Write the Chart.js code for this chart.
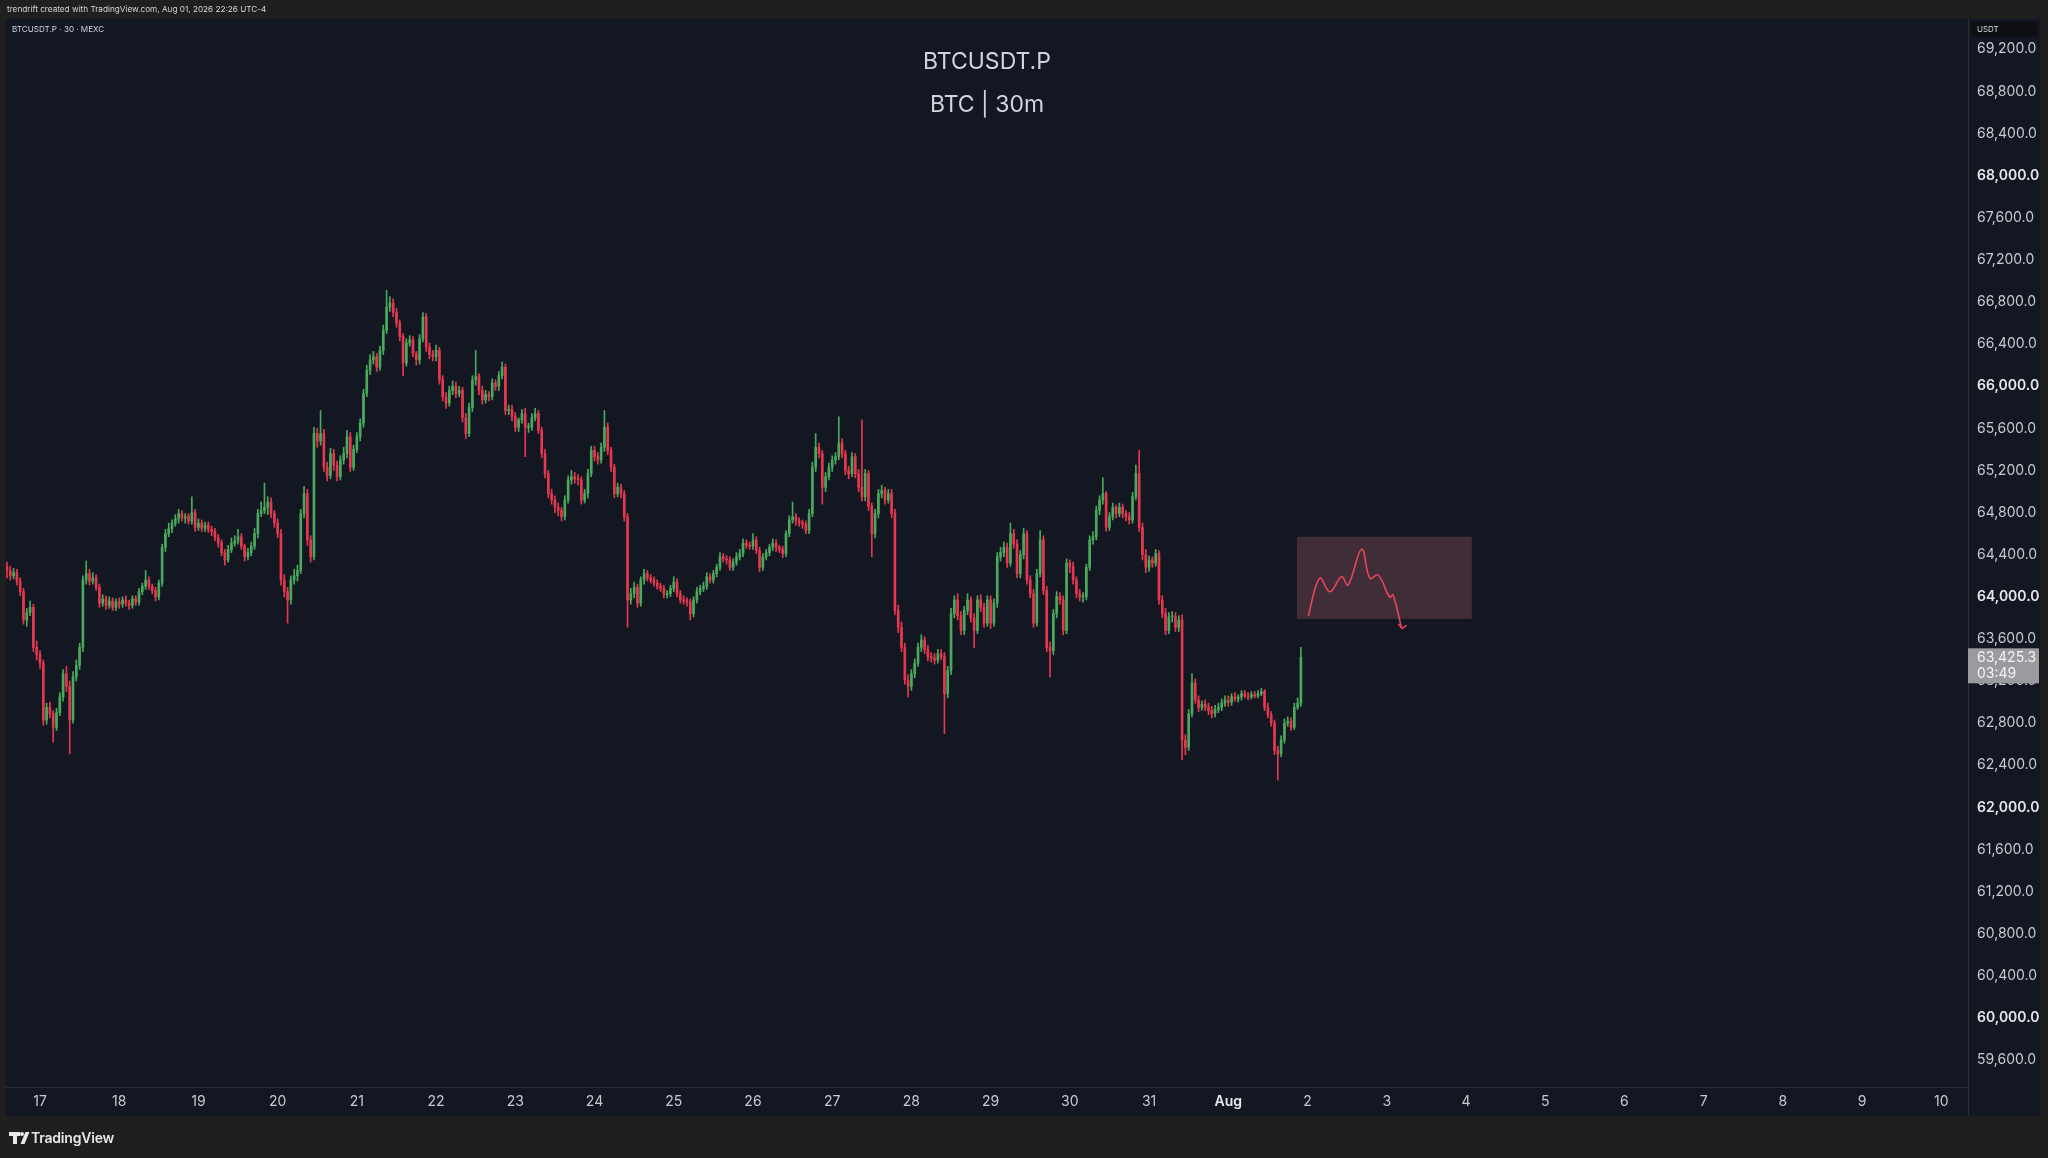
<!DOCTYPE html>
<html>
<head>
<meta charset="utf-8">
<title>BTCUSDT.P 30m</title>
<script src="https://cdn.jsdelivr.net/npm/chart.js@4.4.1/dist/chart.umd.min.js"></script>
<style>
  html, body { margin: 0; padding: 0; background: #1f1f1f; }
  body { width: 2048px; height: 1158px; position: relative; overflow: hidden; font-family: Inter, "Noto Sans", sans-serif; }
  #chart { position: absolute; left: 0; top: 0; }
  .hdr { position: absolute; left: 7px; top: 4px; font-size: 8.2px; line-height: 11px; color: #d6d6d6; white-space: nowrap; }
  .legend { position: absolute; left: 12px; top: 23px; font-size: 8.1px; line-height: 12px; color: #d1d4dc; white-space: nowrap; }
  .title { position: absolute; left: 0; width: 1974px; text-align: center; color: #d1d4dc; font-size: 23px; line-height: 28px; }
  .foot { position: absolute; left: 31px; top: 1129px; font-size: 14px; line-height: 17px; font-weight: 600; color: #e8e8e8; letter-spacing: -0.2px; }
  .logo-t1 { position: absolute; left: 9px; top: 1132px; width: 11px; height: 4px; background: #e8e8e8; }
  .logo-t2 { position: absolute; left: 13px; top: 1132px; width: 4px; height: 12px; background: #e8e8e8; }
  .logo-dot { position: absolute; left: 20px; top: 1132px; width: 4px; height: 4px; border-radius: 2px; background: #e8e8e8; }
  .logo-v { position: absolute; left: 23px; top: 1132px; width: 4px; height: 12px; background: #e8e8e8; transform: skewX(-22deg); }
</style>
</head>
<body>
<canvas id="chart" width="2048" height="1158"></canvas>
<div class="hdr">trendrift created with TradingView.com, Aug 01, 2026 22:26 UTC-4</div>
<div class="legend">BTCUSDT.P · 30 · MEXC</div>
<div class="title" style="top:47px">BTCUSDT.P</div>
<div class="title" style="top:90px">BTC | 30m</div>
<div class="logo-t1"></div><div class="logo-t2"></div><div class="logo-dot"></div><div class="logo-v"></div>
<div class="foot">TradingView</div>
<script>
// hourly candles, x = hours from Jul 17 00:00 (first candle Jul 16 14:00)
const firstHour = -10;

const opens = [
  64280, 64250, 64200, 64230, 64150, 64050, 63780, 63850, 63900, 63520,
  63450, 63370, 62830, 62950, 62890, 62760, 62900, 63050, 63270, 63150, 62830, 63240, 63350, 63520, 64160, 64220, 64150, 64180, 64090, 63940, 63980, 63920, 63960, 63900,
  63950, 63930, 63970, 63940, 63920, 63980, 63950, 64050, 64100, 64160, 64100, 64060, 64000, 64130, 64470, 64600, 64650, 64700, 64740, 64790, 64750, 64760, 64720, 64800,
  64660, 64700, 64650, 64680, 64640, 64620, 64560, 64510, 64420, 64350, 64450, 64510, 64530, 64570, 64480, 64380, 64420, 64480, 64600, 64790, 64820, 64850, 64900, 64790,
  64700, 64600, 64160, 64050, 63970, 64160, 64200, 64250, 64790, 64980, 64540, 64380, 65550, 65480, 65550, 65230, 65150, 65360, 65250, 65140, 65300, 65360, 65520, 65230,
  65400, 65520, 65650, 65930, 66150, 66250, 66280, 66180, 66340, 66530, 66750, 66790, 66700, 66600, 66470, 66220, 66410, 66440, 66310, 66250, 66450, 66660, 66370, 66300,
  66280, 66340, 66060, 65900, 65840, 65960, 66000, 65930, 65960, 65700, 65550, 65800, 66060, 66090, 65960, 65870, 65920, 65900, 66030, 66000, 66100, 66180, 65770, 65780,
  65710, 65610, 65680, 65740, 65610, 65610, 65700, 65740, 65580, 65360, 65170, 64980, 64920, 64850, 64820, 64760, 64920, 65110, 65140, 65120, 65110, 64920, 64980, 65170,
  65390, 65330, 65300, 65420, 65610, 65390, 65230, 64980, 65040, 64980, 64760, 63970, 64030, 64090, 63940, 64160, 64220, 64180, 64160, 64130, 64100, 64080, 64020, 64030,
  64080, 64140, 64030, 63970, 63960, 63950, 63840, 63970, 64050, 64080, 64100, 64190, 64160, 64220, 64280, 64380, 64360, 64350, 64280, 64330, 64380, 64410, 64510, 64490,
  64480, 64540, 64440, 64280, 64380, 64420, 64470, 64510, 64470, 64450, 64410, 64600, 64730, 64760, 64720, 64700, 64690, 64630, 64790, 65230, 65420, 65360, 65040, 65140,
  65230, 65300, 65330, 65460, 65360, 65200, 65170, 65330, 65170, 65040, 64950, 65170, 64860, 64600, 64790, 64980, 65010, 64920, 64980, 64790, 63870, 63710, 63520, 63210,
  63150, 63270, 63370, 63520, 63590, 63500, 63430, 63420, 63400, 63460, 63430, 63080, 63300, 63840, 63970, 63820, 63680, 63870, 63970, 63800, 63680, 63970, 63900, 63750,
  63970, 63750, 63940, 64380, 64420, 64470, 64320, 64600, 64500, 64220, 64400, 64600, 64160, 64030, 63750, 64220, 64540, 64060, 63520, 63490, 63840, 64000, 63970, 63680,
  64320, 64290, 64160, 64030, 64000, 64000, 64280, 64540, 64570, 64820, 64920, 64980, 64660, 64760, 64850, 64790, 64850, 64790, 64760, 64730, 64950, 65170, 64660, 64400,
  64280, 64350, 64320, 64410, 63970, 63840, 63680, 63810, 63810, 63710, 63780, 62640, 62570, 62890, 63180, 63020, 62950, 62980, 62950, 62920, 62890, 62930, 62950, 62990,
  63020, 63000, 63050, 63030, 63050, 63080, 63060, 63050, 63070, 63060, 63080, 63100, 62950, 62880, 62800, 62540, 62510, 62640, 62800, 62820, 62760, 62950, 62990
];

const highs = [
  64330, 64290, 64270, 64260, 64180, 64080, 63890, 63960, 63930, 63580,
  63490, 63400, 62990, 63000, 62920, 62940, 63090, 63310, 63340, 63200, 63290, 63400, 63560, 64200, 64340, 64260, 64230, 64210, 64120, 64020, 64010, 64000, 63990, 63980,
  63990, 64000, 64010, 63970, 64010, 64010, 64080, 64130, 64250, 64190, 64120, 64090, 64160, 64500, 64640, 64700, 64730, 64780, 64830, 64820, 64790, 64790, 64950, 64830,
  64740, 64730, 64710, 64710, 64670, 64650, 64590, 64540, 64450, 64490, 64560, 64580, 64640, 64600, 64500, 64460, 64520, 64650, 64830, 64900, 65080, 64950, 64940, 64820,
  64740, 64640, 64210, 64090, 64200, 64260, 64300, 64830, 65050, 65020, 64580, 65610, 65600, 65770, 65590, 65280, 65410, 65400, 65290, 65340, 65420, 65580, 65560, 65440,
  65560, 65690, 65970, 66200, 66300, 66330, 66310, 66380, 66580, 66910, 66850, 66830, 66740, 66630, 66500, 66450, 66480, 66470, 66330, 66490, 66700, 66690, 66410, 66340,
  66390, 66370, 66100, 65940, 66000, 66050, 66040, 66000, 65990, 65740, 65840, 66100, 66340, 66120, 66000, 65960, 65950, 66070, 66060, 66140, 66230, 66210, 65820, 65820,
  65750, 65700, 65780, 65790, 65650, 65740, 65790, 65770, 65610, 65400, 65200, 65020, 64960, 64890, 64850, 64960, 65150, 65200, 65180, 65160, 65140, 65020, 65210, 65430,
  65430, 65370, 65460, 65770, 65650, 65420, 65260, 65080, 65070, 65010, 64790, 64080, 64140, 64120, 64190, 64260, 64250, 64210, 64190, 64160, 64130, 64110, 64060, 64110,
  64190, 64170, 64060, 64010, 63990, 63980, 64000, 64090, 64110, 64140, 64230, 64220, 64250, 64310, 64420, 64410, 64390, 64380, 64360, 64420, 64450, 64550, 64540, 64520,
  64600, 64570, 64470, 64410, 64450, 64500, 64550, 64540, 64490, 64480, 64630, 64770, 64900, 64790, 64750, 64730, 64720, 64830, 65280, 65550, 65460, 65390, 65180, 65270,
  65340, 65370, 65710, 65500, 65390, 65240, 65370, 65360, 65210, 65680, 65210, 65200, 64890, 64830, 65020, 65060, 65040, 65020, 65020, 64830, 63920, 63760, 63560, 63260,
  63310, 63410, 63560, 63640, 63620, 63540, 63470, 63460, 63500, 63500, 63470, 63340, 63890, 64010, 64030, 63860, 63910, 64030, 64000, 63840, 64010, 64020, 63940, 64010,
  64010, 63980, 64420, 64470, 64520, 64510, 64700, 64640, 64540, 64440, 64650, 64630, 64200, 64070, 64260, 64630, 64580, 64100, 63570, 63880, 64050, 64040, 64010, 64360,
  64350, 64330, 64190, 64070, 64040, 64310, 64580, 64620, 64860, 64960, 65130, 65000, 64800, 64890, 64870, 64890, 64880, 64820, 64800, 64990, 65250, 65390, 64700, 64450,
  64390, 64380, 64450, 64440, 64010, 63890, 63850, 63860, 63850, 63820, 63830, 62690, 62930, 63270, 63220, 63060, 63010, 63020, 62990, 62960, 62970, 62990, 63030, 63060,
  63060, 63080, 63090, 63070, 63110, 63110, 63090, 63100, 63100, 63110, 63130, 63120, 62990, 62910, 62830, 62580, 62680, 62840, 62860, 62850, 62990, 63040, 63520
];

const lows = [
  64180, 64160, 64170, 64110, 64010, 63740, 63720, 63820, 63480, 63400,
  63320, 62780, 62790, 62850, 62620, 62730, 62870, 63010, 63100, 62510, 62800, 63200, 63310, 63480, 64120, 64110, 64120, 64060, 63900, 63910, 63880, 63890, 63870, 63870,
  63890, 63900, 63910, 63880, 63890, 63920, 63920, 64020, 64070, 64070, 64030, 63960, 63970, 64100, 64430, 64570, 64610, 64670, 64700, 64720, 64700, 64690, 64690, 64620,
  64630, 64620, 64620, 64610, 64580, 64530, 64470, 64390, 64300, 64330, 64420, 64480, 64500, 64450, 64340, 64350, 64390, 64450, 64560, 64760, 64790, 64780, 64750, 64660,
  64560, 64110, 64000, 63750, 63930, 64120, 64150, 64220, 64750, 64490, 64330, 64350, 65420, 65440, 65190, 65100, 65120, 65200, 65100, 65110, 65260, 65320, 65190, 65200,
  65370, 65480, 65610, 65900, 66110, 66210, 66140, 66150, 66300, 66500, 66710, 66660, 66560, 66430, 66100, 66190, 66380, 66280, 66200, 66210, 66420, 66330, 66260, 66240,
  66240, 66020, 65860, 65790, 65810, 65920, 65890, 65900, 65660, 65500, 65520, 65760, 66010, 65920, 65830, 65840, 65860, 65870, 65960, 65960, 66070, 65730, 65730, 65670,
  65570, 65570, 65650, 65330, 65560, 65580, 65670, 65550, 65320, 65130, 64940, 64880, 64800, 64770, 64720, 64730, 64890, 65070, 65080, 65060, 64880, 64890, 64940, 65140,
  65290, 65260, 65270, 65380, 65350, 65190, 64940, 64950, 64940, 64720, 63710, 63930, 63990, 63900, 63910, 64120, 64150, 64130, 64100, 64070, 64050, 63990, 63990, 64000,
  64050, 64000, 63940, 63930, 63910, 63780, 63810, 63940, 64020, 64050, 64070, 64130, 64130, 64190, 64250, 64330, 64310, 64250, 64250, 64300, 64350, 64380, 64460, 64450,
  64450, 64410, 64240, 64250, 64350, 64390, 64440, 64430, 64420, 64370, 64380, 64570, 64700, 64680, 64670, 64650, 64600, 64600, 64760, 65190, 65320, 64880, 65000, 65110,
  65190, 65260, 65300, 65320, 65160, 65120, 65140, 65130, 65000, 64910, 64910, 64820, 64380, 64560, 64750, 64940, 64880, 64890, 64750, 63830, 63660, 63480, 63170, 63050,
  63110, 63230, 63340, 63480, 63460, 63390, 63380, 63360, 63370, 63400, 62700, 63040, 63260, 63800, 63780, 63640, 63640, 63830, 63760, 63520, 63650, 63860, 63710, 63720,
  63700, 63720, 63900, 64340, 64380, 64280, 64290, 64460, 64180, 64180, 64360, 64120, 63990, 63710, 63720, 64190, 64020, 63480, 63240, 63450, 63800, 63930, 63640, 63650,
  64230, 64120, 63990, 63960, 63950, 63970, 64250, 64500, 64540, 64780, 64880, 64620, 64630, 64730, 64750, 64760, 64750, 64720, 64690, 64700, 64920, 64620, 64350, 64230,
  64240, 64280, 64290, 63930, 63800, 63640, 63650, 63760, 63670, 63670, 62450, 62500, 62540, 62860, 62990, 62910, 62920, 62920, 62880, 62850, 62860, 62900, 62920, 62960,
  62960, 62970, 63010, 63000, 63020, 63040, 63020, 63030, 63040, 63040, 63060, 62920, 62850, 62770, 62500, 62260, 62480, 62610, 62770, 62730, 62740, 62930, 62960
];

const closes = [
  64250, 64200, 64230, 64150, 64050, 63780, 63850, 63900, 63520, 63450,
  63370, 62830, 62950, 62890, 62760, 62900, 63050, 63270, 63150, 62830, 63240, 63350, 63520, 64160, 64220, 64150, 64180, 64090, 63940, 63980, 63920, 63960, 63900, 63950,
  63930, 63970, 63940, 63920, 63980, 63950, 64050, 64100, 64160, 64100, 64060, 64000, 64130, 64470, 64600, 64650, 64700, 64740, 64790, 64750, 64760, 64720, 64800, 64660,
  64700, 64650, 64680, 64640, 64620, 64560, 64510, 64420, 64350, 64450, 64510, 64530, 64570, 64480, 64380, 64420, 64480, 64600, 64790, 64820, 64850, 64900, 64790, 64700,
  64600, 64160, 64050, 63970, 64160, 64200, 64250, 64790, 64980, 64540, 64380, 65550, 65480, 65550, 65230, 65150, 65360, 65250, 65140, 65300, 65360, 65520, 65230, 65400,
  65520, 65650, 65930, 66150, 66250, 66280, 66180, 66340, 66530, 66750, 66790, 66700, 66600, 66470, 66220, 66410, 66440, 66310, 66250, 66450, 66660, 66370, 66300, 66280,
  66340, 66060, 65900, 65840, 65960, 66000, 65930, 65960, 65700, 65550, 65800, 66060, 66090, 65960, 65870, 65920, 65900, 66030, 66000, 66100, 66180, 65770, 65780, 65710,
  65610, 65680, 65740, 65610, 65610, 65700, 65740, 65580, 65360, 65170, 64980, 64920, 64850, 64820, 64760, 64920, 65110, 65140, 65120, 65110, 64920, 64980, 65170, 65390,
  65330, 65300, 65420, 65610, 65390, 65230, 64980, 65040, 64980, 64760, 63970, 64030, 64090, 63940, 64160, 64220, 64180, 64160, 64130, 64100, 64080, 64020, 64030, 64080,
  64140, 64030, 63970, 63960, 63950, 63840, 63970, 64050, 64080, 64100, 64190, 64160, 64220, 64280, 64380, 64360, 64350, 64280, 64330, 64380, 64410, 64510, 64490, 64480,
  64540, 64440, 64280, 64380, 64420, 64470, 64510, 64470, 64450, 64410, 64600, 64730, 64760, 64720, 64700, 64690, 64630, 64790, 65230, 65420, 65360, 65040, 65140, 65230,
  65300, 65330, 65460, 65360, 65200, 65170, 65330, 65170, 65040, 64950, 65170, 64860, 64600, 64790, 64980, 65010, 64920, 64980, 64790, 63870, 63710, 63520, 63210, 63150,
  63270, 63370, 63520, 63590, 63500, 63430, 63420, 63400, 63460, 63430, 63080, 63300, 63840, 63970, 63820, 63680, 63870, 63970, 63800, 63680, 63970, 63900, 63750, 63970,
  63750, 63940, 64380, 64420, 64470, 64320, 64600, 64500, 64220, 64400, 64600, 64160, 64030, 63750, 64220, 64540, 64060, 63520, 63490, 63840, 64000, 63970, 63680, 64320,
  64290, 64160, 64030, 64000, 64000, 64280, 64540, 64570, 64820, 64920, 64980, 64660, 64760, 64850, 64790, 64850, 64790, 64760, 64730, 64950, 65170, 64660, 64400, 64280,
  64350, 64320, 64410, 63970, 63840, 63680, 63810, 63810, 63710, 63780, 62640, 62570, 62890, 63180, 63020, 62950, 62980, 62950, 62920, 62890, 62930, 62950, 62990, 63020,
  63000, 63050, 63030, 63050, 63080, 63060, 63050, 63070, 63060, 63080, 63100, 62950, 62880, 62800, 62540, 62510, 62640, 62800, 62820, 62760, 62950, 62990, 63425.3
];

const dayLabels = ['17', '18', '19', '20', '21', '22', '23', '24', '25', '26', '27', '28', '29', '30', '31',
  'Aug', '2', '3', '4', '5', '6', '7', '8', '9', '10'];
const priceTicks = [59600, 60000, 60400, 60800, 61200, 61600, 62000, 62400, 62800, 63200, 63600, 64000,
  64400, 64800, 65200, 65600, 66000, 66400, 66800, 67200, 67600, 68000, 68400, 68800, 69200];

const lastPrice = 63425.3;
const countdown = '03:49';

// drawn projection: shaded zone and hand-drawn path with arrow
const zoneHours = [380.8, 433.8];
const zonePrices = [63790, 64570];
const sketchHours = [384.2, 387.7, 390.8, 394.3, 396.3, 400.4, 402.9, 405.4, 408.9, 409.9, 412.5];
const sketchPrices = [63818, 64176, 64048, 64191, 64112, 64451, 64176, 64207, 63995, 64017, 63701];
const arrowHours = [411.5, 412.7, 414.0];
const arrowPrices = [63742, 63699, 63732];

const upColor = '#4aa95c';
const downColor = '#e5384f';
const sketchColor = '#e4445d';

const bodyData = closes.map((c, i) => ({ x: firstHour + i, y: [opens[i], c] }));
const wickData = highs.map((h, i) => ({ x: firstHour + i, y: [lows[i], h] }));
const candleColor = ctx => closes[ctx.dataIndex] >= opens[ctx.dataIndex] ? upColor : downColor;

const fmt = v => v.toLocaleString('en-US', { minimumFractionDigits: 1, maximumFractionDigits: 1 });

const framePlugin = {
  id: 'frame',
  beforeDraw(chart) {
    const c = chart.ctx;
    c.save();
    c.fillStyle = '#1f1f1f';
    c.fillRect(0, 0, 2048, 1158);
    c.fillStyle = '#131722';
    c.fillRect(6, 19, 2034, 1097);
    c.strokeStyle = '#2a2e39';
    c.lineWidth = 1;
    c.beginPath();
    c.moveTo(1968.5, 19); c.lineTo(1968.5, 1116);
    c.moveTo(6, 1087.5); c.lineTo(1968, 1087.5);
    c.stroke();
    c.restore();
  },
  beforeDatasetsDraw(chart) {
    const c = chart.ctx, x = chart.scales.x, y = chart.scales.y;
    const x0 = x.getPixelForValue(zoneHours[0]), x1 = x.getPixelForValue(zoneHours[1]);
    const y0 = y.getPixelForValue(zonePrices[1]), y1 = y.getPixelForValue(zonePrices[0]);
    c.save();
    c.fillStyle = 'rgba(200, 110, 120, 0.25)';
    c.fillRect(x0, y0, x1 - x0, y1 - y0);
    c.restore();
  },
  afterDraw(chart) {
    const c = chart.ctx;
    c.save();
    // currency badge
    c.fillStyle = '#0e0f12';
    c.beginPath();
    c.roundRect(1971, 22, 67, 15, 3);
    c.fill();
    c.fillStyle = '#d1d4dc';
    c.font = '8px Inter';
    c.textBaseline = 'middle';
    c.fillText('USDT', 1977, 29.5);
    // last price label
    const py = chart.scales.y.getPixelForValue(lastPrice);
    c.fillStyle = '#9a9b9f';
    c.fillRect(1968, py - 9, 71, 35);
    c.fillStyle = '#f4f4f4';
    c.font = '14px Inter';
    c.fillText(fmt(lastPrice), 1977, py + 0.5);
    c.fillText(countdown, 1977, py + 16);
    c.restore();
  }
};

new Chart(document.getElementById('chart'), {
  type: 'bar',
  data: {
    datasets: [
      {
        type: 'line',
        data: sketchHours.map((h, i) => ({ x: h, y: sketchPrices[i] })),
        borderColor: sketchColor, borderWidth: 1.6, pointRadius: 0, tension: 0.4, order: 0
      },
      {
        type: 'line',
        data: arrowHours.map((h, i) => ({ x: h, y: arrowPrices[i] })),
        borderColor: sketchColor, borderWidth: 1.6, pointRadius: 0, tension: 0, order: 0
      },
      {
        data: wickData, backgroundColor: candleColor, barThickness: 1,
        grouped: false, order: 2
      },
      {
        data: bodyData, backgroundColor: candleColor, barThickness: 2,
        minBarLength: 1, grouped: false, order: 1
      }
    ]
  },
  options: {
    responsive: false,
    animation: false,
    devicePixelRatio: 1,
    layout: { padding: { left: 6, top: 19, right: 0, bottom: 42 } },
    plugins: { legend: { display: false }, tooltip: { enabled: false } },
    scales: {
      x: {
        type: 'linear', min: -10.3, max: 584.1, offset: false,
        grid: { display: false, drawTicks: false }, border: { display: false },
        afterBuildTicks: s => { s.ticks = dayLabels.map((l, k) => ({ value: k * 24 })); },
        afterFit: s => { s.height = 29; },
        ticks: {
          autoSkip: false, maxRotation: 0, padding: 6,
          color: ctx => ctx.tick && ctx.tick.value === 360 ? '#e6e8ec' : '#c7cad1',
          font: ctx => ({ family: 'Inter', size: 14, weight: ctx.tick && ctx.tick.value === 360 ? '600' : '400' }),
          callback: v => dayLabels[Math.round(v / 24)]
        }
      },
      y: {
        type: 'linear', position: 'right', min: 59345, max: 69487,
        grid: { display: false, drawTicks: false }, border: { display: false },
        afterBuildTicks: s => { s.ticks = priceTicks.map(v => ({ value: v })); },
        afterFit: s => { s.width = 80; },
        ticks: {
          padding: 9,
          color: ctx => ctx.tick && ctx.tick.value % 2000 === 0 ? '#e6e8ec' : '#c7cad1',
          font: ctx => ({ family: 'Inter', size: 14, weight: ctx.tick && ctx.tick.value % 2000 === 0 ? '600' : '400' }),
          callback: v => fmt(v)
        }
      }
    }
  },
  plugins: [framePlugin]
});
</script>
</body>
</html>
